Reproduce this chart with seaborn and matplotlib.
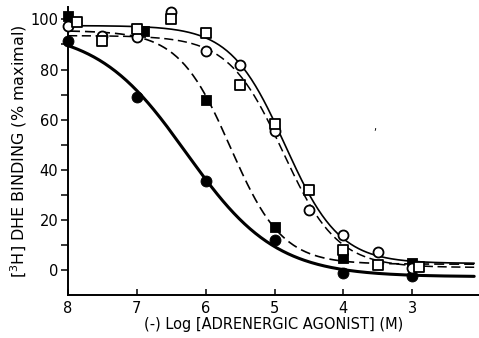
import numpy as np
import pandas as pd
import matplotlib
matplotlib.use('Agg')
import matplotlib.pyplot as plt
import seaborn as sns

# data (x = -log[agonist] (M), y = % maximal binding)
fc_x = [8, 7, 6, 5, 4, 3]
fc_y = [91.5, 69, 35.5, 12, -1, -2.3]
fs_x = [8, 6.9, 6, 5, 4, 3]
fs_y = [101.5, 95.5, 68, 17.5, 5, 3]
oc_x = [8, 7.5, 7, 6.5, 6, 5.5, 5, 4.5, 4, 3.5, 3]
oc_y = [97.5, 93.5, 93, 103, 87.5, 82, 55.5, 24, 14.2, 7.4, 1]
os_x = [7.87, 7.5, 7, 6.5, 6, 5.5, 5, 4.5, 4, 3.5, 2.9]
os_y = [99, 91.5, 96, 100, 94.5, 74, 58.5, 32, 8.2, 2.2, 1.5]

# fitted curves (top, bottom, midpoint, slope) as drawn in the figure
fc_fit = [96, -2.5, 6.28, 0.67]
fs_fit = [95.5, 2.5, 5.64, 1.15]
os_fit = [97.5, 2.8, 4.85, 1.1]
oc_fit = [93.5, 1.2, 4.88, 1.1]

xticks = [8, 7, 6, 5, 4, 3]
yticks = [0, 20, 40, 60, 80, 100]


def hill(x, p):
    top, bottom, mid, n = p
    return bottom + (top - bottom) / (1 + 10 ** (n * (mid - x)))


sns.set_style('ticks')
plt.rcParams['font.family'] = ['DejaVu Sans']
for k in ['text.color', 'axes.labelcolor', 'xtick.color', 'ytick.color', 'axes.edgecolor']:
    plt.rcParams[k] = 'black'

fig = plt.figure(figsize=(4.79, 3.38), dpi=100)
ax = fig.add_axes([0.142, 0.127, 0.858, 0.853])

xs = np.linspace(8, 2.1, 300)

#curves
sns.lineplot(x=xs, y=hill(xs, fc_fit), ax=ax, color='black', lw=2.2)
sns.lineplot(x=xs, y=hill(xs, os_fit), ax=ax, color='black', lw=1.2)
sns.lineplot(x=xs, y=hill(xs, fs_fit), ax=ax, color='black', lw=1.2)
ax.lines[-1].set_dashes((6, 3))
sns.lineplot(x=xs, y=hill(xs, oc_fit), ax=ax, color='black', lw=1.1)
ax.lines[-1].set_dashes((6, 3))

#points
kw = dict(ax=ax, edgecolor='black', clip_on=False, legend=False)
sns.scatterplot(x=fc_x, y=fc_y, marker='o', s=62, color='black', zorder=5, **kw)
sns.scatterplot(x=fs_x, y=fs_y, marker='s', s=55, color='black', zorder=5, **kw)
sns.scatterplot(x=oc_x, y=oc_y, marker='o', s=52, color='white',
                linewidth=1.3, zorder=6, **kw)
sns.scatterplot(x=os_x, y=os_y, marker='s', s=50, color='white',
                linewidth=1.3, zorder=6, **kw)

ax.text(3.54, 57, ',', fontsize=7, ha='center', va='center')

ax.set_xlim(8, 2.03)
ax.set_ylim(-9.8, 105)
ax.set_xticks(xticks)
ax.set_yticks(yticks)
ax.set_yticks([10, 30, 50, 70, 90], minor=True)
ax.tick_params(axis='x', direction='in', length=4, width=1.1, labelsize=10.5, pad=4)
ax.tick_params(axis='y', which='both', direction='out', length=5, width=1.1,
               labelsize=10.5, pad=2)

sns.despine(ax=ax)
for sp in ['left', 'bottom']:
    ax.spines[sp].set_linewidth(1.4)

ax.set_xlabel('(-) Log [ADRENERGIC AGONIST] (M)', fontsize=10.5, labelpad=1)
ax.set_ylabel(r'[$^{3}$H] DHE BINDING (% maximal)', fontsize=11.5, labelpad=1)

fig.savefig('out.png', dpi=100)
